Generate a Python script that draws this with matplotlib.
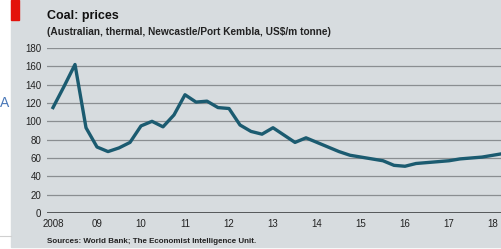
import matplotlib.pyplot as plt
from matplotlib.patches import Rectangle

plt.rcParams['font.family'] = ['Liberation Sans Narrow', 'Liberation Sans', 'DejaVu Sans']

# quarterly coal prices, US$/m tonne
start_year = 2008
prices = [115, 138, 162, 93,
          72, 67, 71, 77,
          95, 100, 94, 107,
          129, 121, 122, 115,
          114, 96, 89, 86,
          93, 85, 77, 82,
          77, 72, 67, 63,
          61, 59, 57, 52,
          51, 54, 55, 56,
          57, 59, 60, 61,
          63, 65]
quarters = [start_year + i / 4 for i in range(len(prices))]
year_ticks = list(range(2008, 2019))
year_labels = ['2008', '09', '10', '11', '12', '13', '14', '15', '16', '17', '18']
y_ticks = list(range(0, 181, 20))

W, H = 501, 249
fig = plt.figure(figsize=(W / 100, H / 100), dpi=100)
fig.patch.set_facecolor('white')

# grey panel + red tag
fig.patches.append(Rectangle((11 / W, 1 - 247 / H), 490 / W, 247 / H,
                             transform=fig.transFigure, color='#d7dcdf', zorder=-2))
fig.patches.append(Rectangle((11 / W, 1 - 20 / H), 8 / W, 20 / H,
                             transform=fig.transFigure, color='#e3120b', zorder=-1))
fig.lines.append(plt.Line2D([0, 11 / W], [1 - 236 / H, 1 - 236 / H],
                            transform=fig.transFigure, color='#d0d0d0', lw=0.8))
fig.text(0 / W, 1 - 103 / H, 'A', color='#4a78b8', fontsize=10, va='center', ha='left')

ax = fig.add_axes([47 / W, 1 - 213 / H, (W - 47) / W, 165 / H])
ax.set_zorder(2)
ax.set_facecolor('none')
ax.plot(quarters, prices, color='#1b5b70', lw=2.4, solid_joinstyle='round', zorder=3, clip_on=False)

ax.set_ylim(0, 180)
ax.set_xlim(2008 - 6 / 44, 2008 + 448 / 44)
ax.set_yticks(y_ticks)
ax.set_xticks(year_ticks)
ax.set_xticklabels(year_labels)
for s in ax.spines.values():
    s.set_visible(False)
ax.grid(axis='y', color='#8a8e91', lw=0.9)
ax.grid(axis='x', visible=False)
ax.axhline(0, color='#4a4d4f', lw=2, zorder=2)
ax.tick_params(axis='both', length=0, labelsize=7, colors='#222222')
ax.tick_params(axis='y', pad=4)
ax.tick_params(axis='x', pad=4)
ax.set_axisbelow(True)

fig.text(47 / W, 1 - 16 / H, 'Coal: prices', fontsize=9, fontweight='bold', color='#111111', va='center')
fig.text(47 / W, 1 - 32 / H, '(Australian, thermal, Newcastle/Port Kembla, US$/m tonne)',
         fontsize=7.3, fontweight='bold', color='#222222', va='center')
fig.text(47 / W, 1 - 241 / H, 'Sources: World Bank; The Economist Intelligence Unit.',
         fontsize=5.8, fontweight='bold', color='#222222', va='center')

fig.savefig('out.png', dpi=100, facecolor=fig.get_facecolor())
